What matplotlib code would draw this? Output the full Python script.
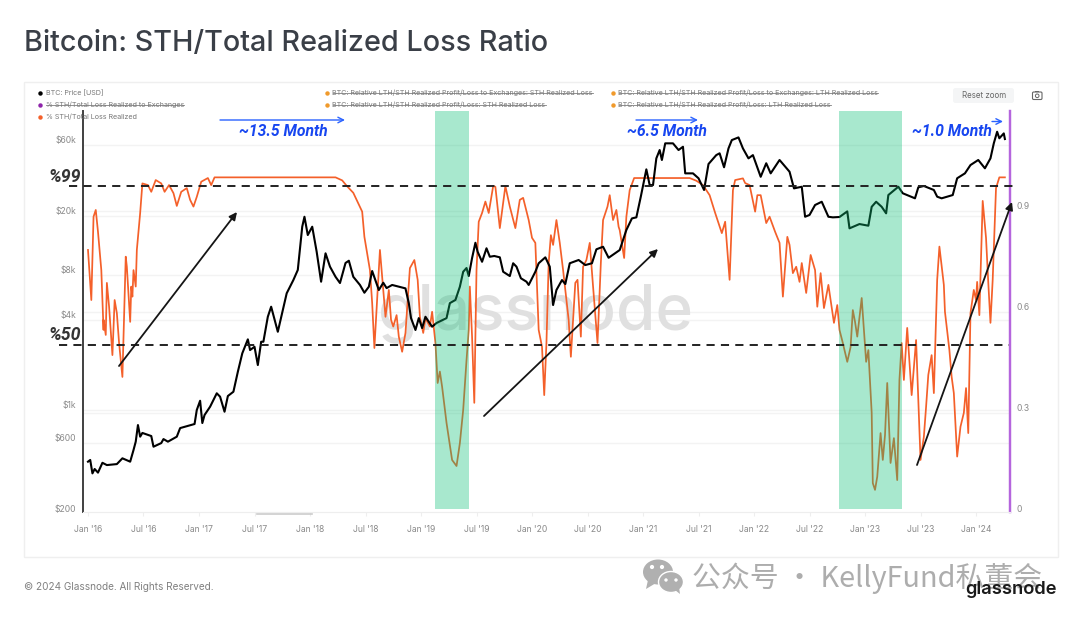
import matplotlib
matplotlib.use("Agg")
import matplotlib.pyplot as plt
from matplotlib.lines import Line2D
from matplotlib.patches import Circle, Ellipse, FancyBboxPatch, Polygon, Rectangle
from matplotlib.transforms import ScaledTranslation

# x values are years since Jan 2016
price_t = [0.00, 0.02, 0.04, 0.06, 0.09, 0.13, 0.17, 0.26, 0.31, 0.38, 0.41, 0.43, 0.45, 0.47, 0.49, 0.57, 0.59, 0.66, 0.68, 0.72,
           0.80, 0.83, 0.96, 0.98, 1.01, 1.03, 1.05, 1.10, 1.16, 1.19, 1.23, 1.26, 1.31, 1.35, 1.39, 1.44, 1.46, 1.50, 1.53, 1.56,
           1.58, 1.62, 1.65, 1.71, 1.79, 1.85, 1.89, 1.93, 1.95, 1.98, 2.02, 2.06, 2.10, 2.14, 2.18, 2.23, 2.27, 2.32, 2.35, 2.39,
           2.45, 2.49, 2.53, 2.56, 2.62, 2.66, 2.69, 2.74, 2.86, 2.89, 2.91, 2.95, 2.98, 3.01, 3.04, 3.10, 3.14, 3.23, 3.26, 3.31,
           3.35, 3.38, 3.41, 3.43, 3.46, 3.49, 3.51, 3.55, 3.59, 3.62, 3.66, 3.71, 3.74, 3.80, 3.83, 3.86, 3.90, 3.95, 3.97, 4.03,
           4.06, 4.12, 4.16, 4.19, 4.22, 4.27, 4.30, 4.34, 4.42, 4.48, 4.54, 4.58, 4.64, 4.69, 4.79, 4.85, 4.90, 4.94, 4.98, 5.03,
           5.06, 5.09, 5.12, 5.15, 5.17, 5.20, 5.27, 5.32, 5.36, 5.38, 5.45, 5.50, 5.55, 5.59, 5.66, 5.69, 5.73, 5.77, 5.80, 5.86,
           5.90, 5.95, 5.99, 6.06, 6.11, 6.15, 6.23, 6.32, 6.36, 6.43, 6.46, 6.50, 6.55, 6.61, 6.67, 6.71, 6.77, 6.84, 6.86, 6.95,
           7.03, 7.06, 7.10, 7.15, 7.19, 7.21, 7.30, 7.34, 7.45, 7.48, 7.53, 7.62, 7.65, 7.69, 7.79, 7.83, 7.90, 7.95, 8.02, 8.08,
           8.13, 8.16, 8.19, 8.21, 8.25, 8.26]
price_usd = [410, 421, 342, 366, 346, 403, 389, 395, 432, 410, 491, 559, 723, 604, 640, 610, 517, 547, 582, 559,
             604, 690, 735, 913, 1054, 746, 845, 961, 1183, 1122, 889, 1134, 1212, 1652, 2198, 2729, 2312, 2433, 1833, 2630,
             2630, 3873, 4525, 3069, 5572, 6839, 7998, 15630, 18240, 13740, 15630, 10610, 6668, 10350, 8414, 7194, 6531, 8913, 9226, 7194,
             6339, 5620, 6166, 7870, 5861, 6561, 6039, 6339, 6012, 4786, 3793, 3155, 3793, 3251, 3873, 3319, 3516, 3793, 4786, 5023,
             6166, 7780, 8241, 7278, 9616, 12190, 10610, 9078, 11190, 9817, 9931, 9727, 7780, 7278, 8872, 8414, 7031, 6668, 6339, 7780,
             8872, 9727, 8414, 4645, 5861, 6839, 6427, 8872, 9333, 8630, 8872, 11015, 11460, 9660, 10890, 14860, 17780, 18070, 24890, 38020,
             29790, 29790, 45080, 51290, 43950, 56890, 56890, 51290, 53950, 35730, 35730, 33110, 27610, 41300, 47420, 48750, 39260, 52600, 59840, 62370,
             52600, 45080, 47420, 33880, 41780, 35730, 43950, 36640, 28310, 29040, 18240, 18750, 21880, 23010, 18240, 18070, 18170, 19820, 15240, 16290,
             15880, 21280, 23010, 21280, 19230, 25530, 29040, 26240, 24270, 28770, 29380, 27610, 24890, 24270, 25530, 33110, 35730, 40640, 43950, 38640,
             45080, 56890, 68080, 61520, 66370, 60810]

ratio_t = [0.00, 0.03, 0.05, 0.07, 0.09, 0.12, 0.14, 0.14, 0.16, 0.17, 0.19, 0.22, 0.24, 0.26, 0.28, 0.31, 0.34, 0.35, 0.38, 0.39,
           0.40, 0.41, 0.43, 0.44, 0.47, 0.49, 0.54, 0.57, 0.61, 0.66, 0.69, 0.73, 0.77, 0.80, 0.84, 0.89, 0.92, 0.95, 0.98, 1.02,
           1.08, 1.11, 1.14, 2.23, 2.29, 2.33, 2.39, 2.47, 2.49, 2.52, 2.54, 2.56, 2.58, 2.63, 2.65, 2.68, 2.71, 2.73, 2.75, 2.78,
           2.80, 2.83, 2.86, 2.90, 2.94, 2.97, 2.99, 3.02, 3.04, 3.08, 3.10, 3.13, 3.15, 3.17, 3.19, 3.23, 3.28, 3.32, 3.35, 3.38,
           3.41, 3.43, 3.44, 3.46, 3.48, 3.50, 3.52, 3.55, 3.58, 3.61, 3.65, 3.67, 3.71, 3.76, 3.80, 3.85, 3.89, 3.92, 3.97, 4.00,
           4.03, 4.06, 4.09, 4.11, 4.13, 4.15, 4.17, 4.19, 4.22, 4.25, 4.28, 4.33, 4.35, 4.39, 4.41, 4.44, 4.46, 4.49, 4.52, 4.55,
           4.59, 4.62, 4.64, 4.68, 4.70, 4.73, 4.76, 4.78, 4.79, 4.83, 4.85, 4.88, 4.92, 5.42, 5.48, 5.54, 5.60, 5.65, 5.71, 5.74,
           5.78, 5.81, 5.83, 5.90, 5.92, 5.96, 6.01, 6.03, 6.06, 6.11, 6.14, 6.19, 6.23, 6.26, 6.30, 6.32, 6.35, 6.38, 6.41, 6.43,
           6.47, 6.51, 6.55, 6.57, 6.60, 6.63, 6.67, 6.72, 6.75, 6.77, 6.80, 6.84, 6.87, 6.89, 6.91, 6.93, 6.97, 7.01, 7.03, 7.06,
           7.07, 7.09, 7.11, 7.14, 7.16, 7.18, 7.20, 7.23, 7.26, 7.29, 7.31, 7.33, 7.35, 7.38, 7.42, 7.46, 7.50, 7.53, 7.55, 7.57,
           7.60, 7.62, 7.65, 7.67, 7.71, 7.72, 7.76, 7.78, 7.80, 7.83, 7.86, 7.89, 7.91, 7.93, 7.95, 7.98, 8.00, 8.01, 8.03, 8.06,
           8.09, 8.11, 8.13, 8.15, 8.18, 8.21, 8.26]
ratio_val = [.768, .619, .867, .887, .822, .708, .530, .560, .515, .670, .599, .455, .619, .580, .491, .390, .748, .718, .554, .659,
             .629, .708, .659, .768, .878, .966, .961, .941, .976, .966, .941, .961, .937, .899, .941, .952, .917, .897, .926, .971,
             .982, .961, .984, .984, .975, .959, .938, .882, .807, .748, .708, .610, .476, .768, .688, .569, .649, .560, .540, .574,
             .510, .465, .521, .714, .738, .679, .569, .521, .565, .540, .584, .491, .372, .406, .361, .253, .143, .125, .193, .292,
             .440, .530, .659, .510, .313, .708, .852, .878, .912, .878, .958, .956, .833, .958, .897, .833, .917, .923, .857, .804,
             .789, .530, .480, .336, .491, .729, .812, .783, .857, .789, .708, .560, .450, .670, .679, .510, .718, .738, .789, .659,
             .491, .729, .857, .897, .931, .857, .887, .837, .827, .744, .867, .946, .982, .982, .974, .961, .931, .878, .818, .852,
             .679, .946, .976, .981, .967, .961, .882, .931, .931, .848, .867, .822, .789, .629, .807, .783, .699, .718, .673, .729,
             .640, .753, .708, .599, .699, .595, .664, .551, .604, .530, .491, .435, .479, .589, .554, .510, .625, .435, .470, .283,
             .074, .054, .093, .223, .143, .217, .372, .134, .208, .083, .381, .491, .381, .536, .336, .500, .143, .212, .301, .396,
             .455, .342, .679, .778, .664, .584, .470, .391, .342, .153, .242, .283, .357, .223, .580, .649, .619, .673, .574, .914,
             .804, .673, .551, .679, .952, .984, .984]

price_ticks = [200, 600, 1000, 4000, 8000, 20000, 60000]
price_tick_labels = ["$200", "$600", "$1k", "$4k", "$8k", "$20k", "$60k"]
ratio_ticks = [0, 0.3, 0.6, 0.9]
ratio_tick_labels = ["0", "0.3", "0.6", "0.9"]
x_ticks = [i * 0.5 for i in range(17)]
x_tick_labels = ["Jan '16", "Jul '16", "Jan '17", "Jul '17", "Jan '18", "Jul '18", "Jan '19", "Jul '19", "Jan '20",
                 "Jul '20", "Jan '21", "Jul '21", "Jan '22", "Jul '22", "Jan '23", "Jul '23", "Jan '24"]
green_bands = [(3.126, 3.432), (6.766, 7.33)]
level_lines = [(0.958, -0.17, 8.36), (0.485, -0.26, 8.30)]

plt.rcParams["font.family"] = ["Inter", "DejaVu Sans"]
GREY = "#8a8a8a"
ORANGE = "#f4602a"

fig = plt.figure(figsize=(10.8, 6.22), dpi=100, facecolor="white")
W, H = 1080, 622

# main axes, placed by pixel box. price axes sits on top so the bands tint both lines
left, right, top, bottom = 83, 1010, 111, 512
ax = fig.add_axes([left / W, 1 - bottom / H, (right - left) / W, (bottom - top) / H])
ax_r = ax.twinx()
ax.set_zorder(3)
ax_r.set_zorder(2)
ax.patch.set_visible(False)

ax.set_xlim(-0.045, 8.306)
ax.set_yscale("log")
ax.set_ylim(188, 93900)
ax_r.set_ylim(-0.0119, 1.1815)

ax_r.plot(ratio_t, ratio_val, color=ORANGE, lw=1.25, solid_joinstyle="round", zorder=3)
ax.plot(price_t, price_usd, color="black", lw=1.5, solid_joinstyle="round", zorder=3)

ax_r.text(0.488, 0.497, "glassnode", transform=ax_r.transAxes, ha="center", va="center",
          fontsize=46, fontweight="medium", color="#e0e0e0", zorder=1)

# faint gridlines sit a few pixels under the tick labels
shift = ScaledTranslation(0, -4 / 72, fig.dpi_scale_trans)
for v in price_ticks:
    ax_r.plot([0, 1], [v, v], color="#f3f3f3", lw=1, zorder=0, transform=ax.get_yaxis_transform() + shift)
for v in ratio_ticks[1:]:
    ax_r.plot([0, 1], [v, v], color="#f3f3f3", lw=1, zorder=0, transform=ax_r.get_yaxis_transform() + shift)

for a, b in green_bands:
    ax.axvspan(a, b, ymin=0.0075, ymax=1, color="#0ec077", alpha=0.36, lw=0, zorder=5)

for y, x0, x1 in level_lines:
    ax.plot([x0, x1], [y, y], color="#222222", lw=1.4, dashes=(4.2, 3.2), clip_on=False, zorder=6,
            transform=ax_r.transData)

ax.set_xticks(x_ticks)
ax.set_xticklabels(x_tick_labels)
ax.set_yticks(price_ticks)
ax.set_yticklabels(price_tick_labels)
ax.minorticks_off()
ax.tick_params(axis="x", length=3, width=0.8, color="#eeeeee", labelsize=6.2, labelcolor=GREY, pad=6)
ax.tick_params(axis="y", length=0, labelsize=6.2, labelcolor=GREY, pad=5)
ax_r.set_yticks(ratio_ticks)
ax_r.set_yticklabels(ratio_tick_labels)
ax_r.tick_params(axis="y", length=0, labelsize=6.2, labelcolor=GREY, pad=5)

for a in (ax, ax_r):
    a.spines["top"].set_visible(False)
    a.spines["left"].set_color("#444444")
    a.spines["left"].set_linewidth(1.3)
    a.spines["right"].set_color("#b565dd")
    a.spines["right"].set_linewidth(1.6)
    a.spines["bottom"].set_color("#eeeeee")

# overlay in image pixels for everything that was drawn on top of the chart
ov = fig.add_axes([0, 0, 1, 1], zorder=10)
ov.set_xlim(0, W)
ov.set_ylim(H, 0)
ov.axis("off")

ov.add_patch(Rectangle((24, 82), 1034, 475, fc="none", ec="#efefef", lw=1))
ov.text(24, 43.5, "Bitcoin: STH/Total Realized Loss Ratio", fontsize=20.7, fontweight="medium", color="#3a3f47",
        va="center", ha="left")
ov.text(24, 587, "© 2024 Glassnode. All Rights Reserved.", fontsize=7.2, color="#808080", va="center")

# legend
legend_rows = [
    (40, 92.5, "black", "BTC: Price [USD]", False),
    (40, 104.5, "#8e24aa", "% STH/Total Loss Realized to Exchanges", True),
    (40, 116.5, ORANGE, "% STH/Total Loss Realized", False),
    (327, 92.5, "#f09a2c", "BTC: Relative LTH/STH Realized Profit/Loss to Exchanges: STH Realized Loss", True),
    (327, 104.5, "#f09a2c", "BTC: Relative LTH/STH Realized Profit/Loss: STH Realized Loss", True),
    (613, 92.5, "#f09a2c", "BTC: Relative LTH/STH Realized Profit/Loss to Exchanges: LTH Realized Loss", True),
    (613, 104.5, "#f09a2c", "BTC: Relative LTH/STH Realized Profit/Loss: LTH Realized Loss", True),
]
renderer = fig.canvas.get_renderer()
for x, y, col, label, struck in legend_rows:
    ov.plot([x], [y], "o", color=col, ms=3.2, mew=0)
    t = ov.text(x + 5.5, y, label, fontsize=5.15, color="#787878", va="center", ha="left")
    if struck:
        box = t.get_window_extent(renderer)
        ov.add_line(Line2D([box.x0, box.x1], [y, y], color="#808080", lw=0.6))

# reset button and camera icon
ov.add_patch(FancyBboxPatch((953, 88), 61, 15, boxstyle="round,pad=0,rounding_size=2.5", fc="#f4f5f6", ec="none"))
ov.text(984.5, 95.5, "Reset zoom", fontsize=5.7, color="#666666", ha="center", va="center")
ov.add_patch(FancyBboxPatch((1032.5, 92), 9.5, 7.5, boxstyle="round,pad=0,rounding_size=1.2", fc="none", ec="#666666", lw=0.8))
ov.add_patch(Rectangle((1035, 90.6), 4, 1.4, fc="#666666", ec="none"))
ov.add_patch(Circle((1037.2, 95.8), 1.8, fc="none", ec="#666666", lw=0.7))

# hand drawn arrows
for start, end in [((119, 366), (237, 212)), ((484, 416), (658, 249)), ((917, 465), (1012, 202))]:
    ov.annotate("", xy=end, xytext=start,
                arrowprops=dict(arrowstyle="-|>,head_width=0.22,head_length=0.45", color="#151515", lw=1.3,
                                shrinkA=0, shrinkB=0))
for start, end in [((220, 120), (345, 120)), ((636, 120), (698, 120)), ((992, 121.5), (1003, 121.5))]:
    ov.annotate("", xy=end, xytext=start,
                arrowprops=dict(arrowstyle="->,head_width=0.2,head_length=0.4", color="#2a62ff", lw=1,
                                shrinkA=0, shrinkB=0))

month_font = dict(family="Roboto", fontsize=11.3, fontweight="bold", fontstyle="italic", color="#1746f0",
                  ha="center", va="center")
ov.text(283, 131, "~13.5 Month", **month_font)
ov.text(667, 131, "~6.5 Month", **month_font)
ov.text(952, 131, "~1.0 Month", **month_font)

level_font = dict(family="Roboto", fontsize=12.8, fontweight="bold", fontstyle="italic", color="#333333",
                  ha="center", va="center")
ov.text(64.5, 177, "%99", **level_font)
ov.text(64.5, 335.5, "%50", **level_font)

# scrollbar stub under the x axis
ov.plot([257, 312], [513.5, 513.5], color="#cccccc", lw=1.2)

# wechat watermark and logo
ov.add_patch(Ellipse((658, 572), 30, 25, fc="#b0b0b0", ec="none"))
ov.add_patch(Polygon([[648, 580], [646, 589], [656, 583]], fc="#b0b0b0", ec="none"))
ov.add_patch(Ellipse((671, 582), 25, 21, fc="#b0b0b0", ec="white", lw=1))
ov.add_patch(Polygon([[675, 590], [680, 594], [679, 587]], fc="#b0b0b0", ec="none"))
for cx, cy, r in [(652, 567, 2.1), (662, 567, 2.1), (666, 580, 1.7), (676, 580, 1.7)]:
    ov.add_patch(Circle((cx, cy), r, fc="white", ec="none"))
ov.text(692, 578, "公众号 · KellyFund私董会", family=["Noto Sans CJK SC", "DejaVu Sans"], fontsize=20.8,
        color="#adadad", va="center", ha="left")
ov.text(1057, 590, "glassnode", fontsize=13.2, fontweight="semibold", color="#1a1a1a", va="center", ha="right")

fig.savefig("out.png", dpi=100)
